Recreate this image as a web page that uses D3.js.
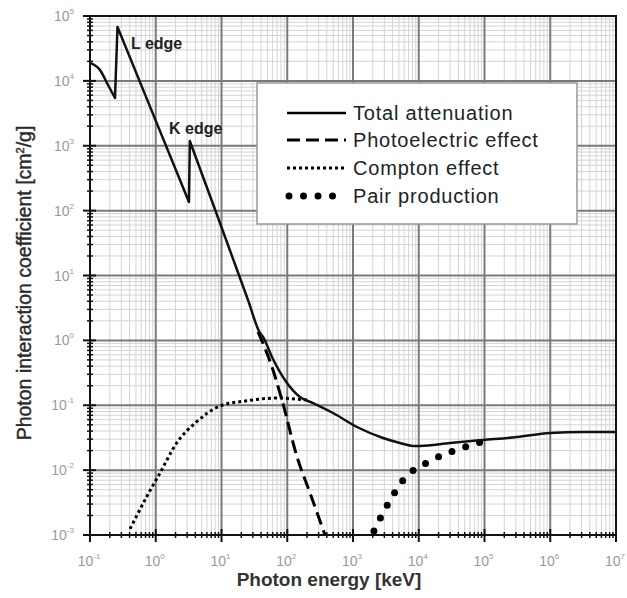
<!DOCTYPE html>
<html><head><meta charset="utf-8">
<script src="https://cdn.jsdelivr.net/npm/d3@7"></script>
<style>
body{margin:0;background:#fff;}
text{font-family:"Liberation Sans",Arial,sans-serif;}
</style></head>
<body><svg id="c" width="627" height="598"></svg>
<script>
// ---- data (energy in keV, coefficient in cm^2/g) ----
const totalE  = [0.1, 0.142, 0.188, 0.24, 0.262, 0.818, 3.2, 3.3, 8.45, 25.3, 38.5, 42.8, 58.6, 99.1, 156, 247, 497, 1150, 2860, 5190, 8180, 10400, 29900, 94800, 312000, 991000, 3150000, 1e7];
const totalMu = [18900, 14700, 8630, 5440, 67600, 4010, 136, 1180, 88.7, 4.19, 1.30, 1.13, 0.555, 0.220, 0.134, 0.108, 0.0759, 0.0462, 0.0313, 0.0262, 0.0236, 0.0236, 0.0262, 0.0291, 0.0324, 0.0373, 0.0387, 0.0387];
const photoE  = [35.9, 58.6, 83.2, 141, 222, 375];
const photoMu = [1.35, 0.389, 0.120, 0.0159, 0.00444, 0.001];
const comptonE  = [0.406, 0.728, 1.16, 2.08, 4.20, 9.48, 24.2, 69.2, 200];
const comptonMu = [0.00124, 0.00389, 0.00904, 0.0262, 0.0557, 0.0973, 0.117, 0.129, 0.120];
const pairE  = [2080, 3400, 5970, 13800, 36900, 102000];
const pairMu = [0.00115, 0.00301, 0.00729, 0.0133, 0.0204, 0.0281];
const xTickExps = [-1, 0, 1, 2, 3, 4, 5, 6, 7];
const yTickExps = [-3, -2, -1, 0, 1, 2, 3, 4, 5];
const legendLabels = ["Total attenuation", "Photoelectric effect", "Compton effect", "Pair production"];
const edgeLabels = [{t:"L edge", E:0.42, mu:3.1e4}, {t:"K edge", E:1.59, mu:1500}];
// pieces of the total curve: [from index, to index, smooth?] (edges are sharp jumps)
const totalPieces = [[0, 3, true], [3, 4, false], [4, 6, false], [6, 7, false], [7, 27, true]];

// ---- layout ----
const L = 90, R = 616, T = 16, B = 535;
const svg = d3.select("#c");
const x = d3.scaleLog().domain([1e-1, 1e7]).range([L, R]);
const y = d3.scaleLog().domain([1e-3, 1e5]).range([B, T]);

// minor grid
const minors = [];
for (let e = -3; e < 7; e++) for (let k = 2; k <= 9; k++) minors.push(k * Math.pow(10, e));
const xMin = minors.filter(v => v > 1e-1 && v < 1e7);
const yMin = minors.filter(v => v > 1e-3 && v < 1e5);
const g = svg.append("g");
g.selectAll(".mx").data(xMin).join("line")
  .attr("x1", d => x(d)).attr("x2", d => x(d)).attr("y1", T).attr("y2", B)
  .attr("stroke", "#d4d4d4").attr("stroke-width", 1);
g.selectAll(".my").data(yMin).join("line")
  .attr("y1", d => y(d)).attr("y2", d => y(d)).attr("x1", L).attr("x2", R)
  .attr("stroke", "#d4d4d4").attr("stroke-width", 1);
// major grid
g.selectAll(".Mx").data(xTickExps.map(e => Math.pow(10, e))).join("line")
  .attr("x1", d => x(d)).attr("x2", d => x(d)).attr("y1", T).attr("y2", B)
  .attr("stroke", "#7a7a7a").attr("stroke-width", 2);
g.selectAll(".My").data(yTickExps.map(e => Math.pow(10, e))).join("line")
  .attr("y1", d => y(d)).attr("y2", d => y(d)).attr("x1", L).attr("x2", R)
  .attr("stroke", "#7a7a7a").attr("stroke-width", 2);

// legend box
const lg = svg.append("g");
lg.append("rect").attr("x", 257).attr("y", 83).attr("width", 320).attr("height", 141)
  .attr("fill", "#fff").attr("stroke", "#999").attr("stroke-width", 1.5);

// curves
svg.append("clipPath").attr("id", "pc").append("rect")
  .attr("x", L).attr("y", T).attr("width", R - L).attr("height", B - T);
const smooth = d3.line().x(d => x(d[0])).y(d => y(d[1])).curve(d3.curveMonotoneX);
const straight = d3.line().x(d => x(d[0])).y(d => y(d[1]));
const cg = svg.append("g").attr("clip-path", "url(#pc)");
const zip = (a, b) => a.map((v, i) => [v, b[i]]);
cg.append("path").attr("d", smooth(zip(comptonE, comptonMu))).attr("fill", "none")
  .attr("stroke", "#000").attr("stroke-width", 3).attr("stroke-dasharray", "3,3");
cg.append("path").attr("d", smooth(zip(photoE, photoMu))).attr("fill", "none")
  .attr("stroke", "#000").attr("stroke-width", 3).attr("stroke-dasharray", "13,6");
cg.append("path").attr("d", smooth(zip(pairE, pairMu))).attr("fill", "none")
  .attr("stroke", "#000").attr("stroke-width", 7).attr("stroke-linecap", "round").attr("stroke-dasharray", "0,14.5");
const tot = zip(totalE, totalMu);
const totalD = totalPieces.map(([a, b, s]) => (s ? smooth : straight)(tot.slice(a, b + 1))).join("");
cg.append("path").attr("d", totalD).attr("fill", "none")
  .attr("stroke", "#111").attr("stroke-width", 2.5).attr("stroke-linejoin", "round").attr("stroke-linecap", "round");

// frame
svg.append("rect").attr("x", L).attr("y", T).attr("width", R - L).attr("height", B - T)
  .attr("fill", "none").attr("stroke", "#111").attr("stroke-width", 2);

// axes ticks
const ax = svg.append("g");
ax.selectAll(".tx").data(xMin).join("line").attr("x1", d => x(d)).attr("x2", d => x(d))
  .attr("y1", B - 3).attr("y2", B + 3).attr("stroke", "#111").attr("stroke-width", 1.5);
ax.selectAll(".ty").data(yMin).join("line").attr("y1", d => y(d)).attr("y2", d => y(d))
  .attr("x1", L - 3).attr("x2", L + 3).attr("stroke", "#111").attr("stroke-width", 1.5);
ax.selectAll(".Tx").data(xTickExps).join("line").attr("x1", d => x(Math.pow(10, d))).attr("x2", d => x(Math.pow(10, d)))
  .attr("y1", B - 6).attr("y2", B + 7).attr("stroke", "#111").attr("stroke-width", 2);
ax.selectAll(".Ty").data(yTickExps).join("line").attr("y1", d => y(Math.pow(10, d))).attr("y2", d => y(Math.pow(10, d)))
  .attr("x1", L - 7).attr("x2", L + 6).attr("stroke", "#111").attr("stroke-width", 2);

// tick labels
function pow10(sel) {
  sel.text("10").append("tspan").attr("dy", -7).attr("font-size", 8).text(d => d);
}
ax.selectAll(".lx").data(xTickExps).join("text")
  .attr("x", d => x(Math.pow(10, d)) - 1).attr("y", 566).attr("text-anchor", "middle")
  .attr("font-size", 14).attr("fill", "#9a9a9a").call(pow10);
ax.selectAll(".ly").data(yTickExps).join("text")
  .attr("x", 74).attr("y", d => y(Math.pow(10, d)) + 5).attr("text-anchor", "end")
  .attr("font-size", 14).attr("fill", "#9a9a9a").call(pow10);

// axis titles
svg.append("text").attr("x", 329).attr("y", 586).attr("text-anchor", "middle")
  .attr("font-size", 19).attr("font-weight", "bold").attr("fill", "#333").text("Photon energy [keV]");
const yt = svg.append("text").attr("transform", "translate(31,283) rotate(-90)").attr("text-anchor", "middle")
  .attr("font-size", 19.5).attr("fill", "#2a2a2a").attr("stroke", "#2a2a2a").attr("stroke-width", 0.4);
yt.append("tspan").text("Photon interaction coefficient [cm");
yt.append("tspan").attr("dy", -7).attr("font-size", 11).text("2");
yt.append("tspan").attr("dy", 7).text("/g]");

// edge labels
svg.selectAll(".el").data(edgeLabels).join("text")
  .attr("x", d => x(d.E)).attr("y", d => y(d.mu)).attr("font-size", 16).attr("font-weight", "bold")
  .attr("fill", "#222").text(d => d.t);

// legend entries
const rows = [113, 140, 168, 196];
const styles = [
  {w: 2.5, da: null, cap: "butt"},
  {w: 3, da: "13,6", cap: "butt"},
  {w: 3, da: "3,3", cap: "butt"},
  {w: 7, da: "0,14.5", cap: "round"}
];
legendLabels.forEach((t, i) => {
  const p = lg.append("line").attr("x1", i === 3 ? 289 : 287).attr("x2", 346).attr("y1", rows[i]).attr("y2", rows[i])
    .attr("stroke", "#000").attr("stroke-width", styles[i].w).attr("stroke-linecap", styles[i].cap);
  if (styles[i].da) p.attr("stroke-dasharray", styles[i].da);
  lg.append("text").attr("x", 353).attr("y", rows[i] + 7).attr("font-size", 20).attr("letter-spacing", 0.8)
    .attr("fill", "#222").text(t);
});
</script></body></html>
